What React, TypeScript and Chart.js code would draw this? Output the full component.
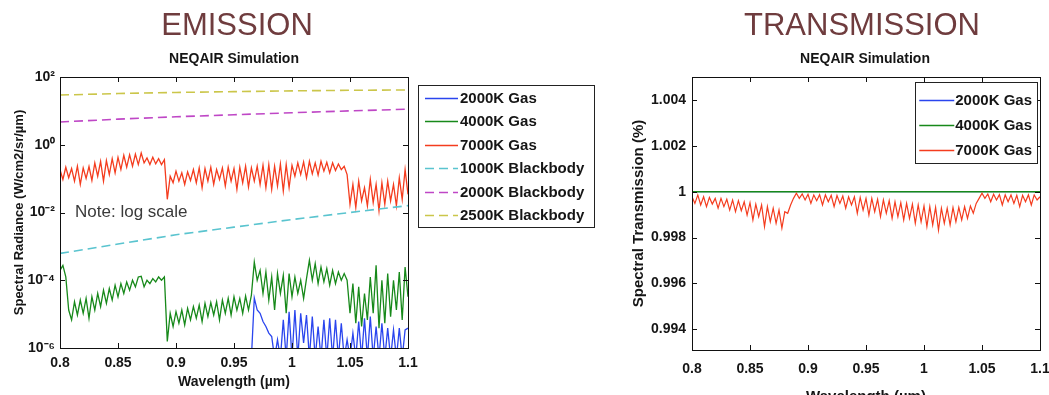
import { useEffect, useRef } from 'react';
import { Chart, registerables } from 'chart.js';

Chart.register(...registerables);

// ---------- DATA ----------
const WAVELENGTH = [
  0.8000, 0.8025, 0.8050, 0.8075, 0.8100, 0.8125, 0.8150, 0.8175, 0.8200, 0.8225,
  0.8250, 0.8275, 0.8300, 0.8325, 0.8350, 0.8375, 0.8400, 0.8425, 0.8450, 0.8475,
  0.8500, 0.8525, 0.8550, 0.8575, 0.8600, 0.8625, 0.8650, 0.8675, 0.8700, 0.8725,
  0.8750, 0.8775, 0.8800, 0.8825, 0.8850, 0.8875, 0.8900, 0.8925, 0.8950, 0.8975,
  0.9000, 0.9025, 0.9050, 0.9075, 0.9100, 0.9125, 0.9150, 0.9175, 0.9200, 0.9225,
  0.9250, 0.9275, 0.9300, 0.9325, 0.9350, 0.9375, 0.9400, 0.9425, 0.9450, 0.9475,
  0.9500, 0.9525, 0.9550, 0.9575, 0.9600, 0.9625, 0.9650, 0.9675, 0.9700, 0.9725,
  0.9750, 0.9775, 0.9800, 0.9825, 0.9850, 0.9875, 0.9900, 0.9925, 0.9950, 0.9975,
  1.0000, 1.0025, 1.0050, 1.0075, 1.0100, 1.0125, 1.0150, 1.0175, 1.0200, 1.0225,
  1.0250, 1.0275, 1.0300, 1.0325, 1.0350, 1.0375, 1.0400, 1.0425, 1.0450, 1.0475,
  1.0500, 1.0525, 1.0550, 1.0575, 1.0600, 1.0625, 1.0650, 1.0675, 1.0700, 1.0725,
  1.0750, 1.0775, 1.0800, 1.0825, 1.0850, 1.0875, 1.0900, 1.0925, 1.0950, 1.0975,
  1.1000,
];

// Emission: spectral radiance (W/cm2/sr/um)
const GAS_7000K_RADIANCE = [
  0.185, 0.0946, 0.217, 0.106, 0.199, 0.0845, 0.232, 0.0675, 0.207, 0.101, 0.227, 0.0884,
  0.291, 0.118, 0.325, 0.0845, 0.340, 0.132, 0.389, 0.148, 0.426,
  0.185, 0.488, 0.217, 0.510, 0.232, 0.533, 0.260, 0.570,
  0.291, 0.407, 0.260, 0.426, 0.272, 0.389, 0.260, 0.364,
  0.0245,
  0.118, 0.0755, 0.166, 0.0845, 0.148, 0.0675, 0.158, 0.0884,
  0.185, 0.0755, 0.207, 0.0539, 0.199, 0.0845, 0.217, 0.0675, 0.185, 0.0946, 0.207, 0.0603,
  0.217, 0.0845, 0.199, 0.0482, 0.217, 0.0755, 0.232, 0.0564, 0.207, 0.0845, 0.232,
  0.0675, 0.248, 0.0539, 0.260, 0.0482, 0.232, 0.0603, 0.272, 0.0431, 0.260, 0.0539, 0.248,
  0.118, 0.291, 0.132, 0.311, 0.106, 0.325, 0.138, 0.291, 0.127, 0.325, 0.166, 0.304,
  0.148, 0.291, 0.173, 0.272, 0.185, 0.232,
  0.132,
  0.0175, 0.0675, 0.0140, 0.0845, 0.0219, 0.0539, 0.0157, 0.0946, 0.0196, 0.0675, 0.0112,
  0.0755, 0.0175, 0.0845, 0.0219, 0.0675, 0.0157, 0.106, 0.0245, 0.185, 0.0344,
];

const GAS_4000K_RADIANCE = [
  1.96e-4, 2.75e-4, 1.25e-4,
  1.32e-5, 6.75e-6, 2.32e-5, 9.45e-6, 2.60e-5, 1.06e-5, 2.91e-5, 7.55e-6, 3.25e-5, 1.32e-5,
  4.07e-5, 1.66e-5, 5.09e-5, 2.08e-5, 5.70e-5, 2.60e-5, 7.14e-5, 3.25e-5, 7.98e-5, 4.07e-5,
  8.93e-5, 5.09e-5, 1.0e-4, 6.38e-5, 1.25e-4, 1.31e-4,
  6.38e-5, 1.0e-4, 7.98e-5, 1.12e-4, 8.93e-5, 1.25e-4, 1.0e-4, 1.25e-4,
  1.57e-6,
  1.06e-5, 4.31e-6, 1.18e-5, 5.39e-6, 1.32e-5, 4.82e-6, 1.48e-5, 6.75e-6, 1.66e-5, 7.55e-6,
  1.85e-5, 6.03e-6, 2.08e-5, 8.45e-6, 2.2e-5, 9.45e-6, 2.32e-5, 6.75e-6, 2.60e-5, 1.06e-5,
  2.91e-5, 9.45e-6, 3.25e-5, 1.32e-5, 2.91e-5, 1.06e-5, 3.4e-5, 1.32e-5, 3.64e-5,
  3.44e-4, 1.0e-4, 1.96e-4, 4.07e-5, 1.75e-4, 2.60e-5, 1.25e-4, 1.32e-5, 1.57e-4, 4.07e-5,
  1.40e-4, 1.06e-5, 1.57e-4, 3.25e-5, 1.25e-4, 4.07e-5, 1.0e-4, 2.91e-5, 1.12e-4,
  3.85e-4, 1.0e-4, 3.08e-4, 7.98e-5, 2.45e-4, 8.93e-5, 2.19e-4, 7.14e-5, 1.96e-4, 7.98e-5,
  1.75e-4, 1.0e-4, 1.57e-4, 1.0e-4,
  1.06e-5, 7.98e-5, 5.39e-6, 6.38e-5, 4.31e-6, 4.07e-5, 6.75e-6, 1.25e-4, 1.06e-5, 2.75e-4,
  3.85e-6, 1.0e-4, 5.39e-6, 1.57e-4, 8.45e-6, 1.0e-4, 1.32e-5, 1.75e-4, 6.75e-6, 2.45e-4,
  3.25e-5,
];

// 2000K gas only rises above 1e-6 from 0.965 um on
const GAS_2000K_WAVELENGTH = WAVELENGTH.slice(66);
const GAS_2000K_RADIANCE = [
  5e-7, 3.0e-5, 1.32e-5, 1.06e-5, 6.03e-6, 4.31e-6, 2.75e-6, 2.19e-6, 5e-7, 1.75e-6,
  5e-7, 6.75e-6, 5e-7, 1.18e-5, 5e-7, 1.32e-5, 5e-7, 1.06e-5, 1.40e-6, 9.45e-6,
  5e-7, 8.45e-6, 5e-7, 4.31e-6, 5e-7, 6.75e-6, 5e-7, 7.55e-6, 5e-7, 6.75e-6,
  5e-7, 5.39e-6, 5e-7, 1.75e-6, 5e-7, 2.75e-6, 5e-7, 6.03e-6, 5e-7, 7.55e-6,
  5e-7, 8.45e-6, 5e-7, 4.31e-6, 5e-7, 5.39e-6, 5e-7, 3.85e-6, 5e-7, 3.44e-6,
  5e-7, 3.85e-6, 5e-7, 3.44e-6, 3.85e-6,
];

const BB_WAVELENGTH = [0.8, 0.85, 0.9, 0.95, 1.0, 1.05, 1.1];
const BB_1000K_RADIANCE = [6.2e-4, 1.17e-3, 2.2e-3, 3.7e-3, 6.2e-3, 1.0e-2, 1.6e-2];
const BB_2000K_RADIANCE = [4.7, 5.7, 6.7, 7.7, 8.8, 10.0, 11.2];
const BB_2500K_RADIANCE = [29.3, 32.5, 35, 37, 39, 40.5, 41.5];

// Transmission
const GAS_7000K_TRANSMISSION = [
  0.99978, 0.99949, 0.99986, 0.99942, 0.99978, 0.99935, 0.99975, 0.99946, 0.99971, 0.99928,
  0.99971, 0.99935, 0.99967, 0.99920, 0.99964, 0.99913, 0.99961, 0.99917, 0.99956, 0.99898,
  0.99952, 0.99877, 0.99946, 0.99891, 0.99942, 0.99848, 0.99935, 0.99869, 0.99928, 0.99862,
  0.99920, 0.99841, 0.99913, 0.99906, 0.99942, 0.99971, 0.99993, 0.99971, 0.99990, 0.99964,
  0.99989, 0.99949, 0.99986, 0.99961, 0.99987, 0.99942, 0.99986, 0.99956, 0.99984, 0.99935,
  0.99983, 0.99949, 0.99981, 0.99928, 0.99978, 0.99942, 0.99978, 0.99906, 0.99975, 0.99920,
  0.99971, 0.99898, 0.99971, 0.99913, 0.99967, 0.99891, 0.99964, 0.99906, 0.99961, 0.99884,
  0.99956, 0.99891, 0.99952, 0.99877, 0.99949, 0.99884, 0.99946, 0.99862, 0.99942, 0.99869,
  0.99938, 0.99848, 0.99935, 0.99855, 0.99932, 0.99833, 0.99928, 0.99862, 0.99928, 0.99855,
  0.99931, 0.99869, 0.99932, 0.99877, 0.99935, 0.99884, 0.99938, 0.99906, 0.99949, 0.99971,
  0.99993, 0.99971, 0.99990, 0.99956, 0.99989, 0.99964, 0.99987, 0.99942, 0.99986, 0.99956,
  0.99986, 0.99949, 0.99984, 0.99935, 0.99984, 0.99956, 0.99986, 0.99942, 0.99986, 0.99964,
  0.99978,
];
const FLAT_WAVELENGTH = [0.8, 1.1];
const GAS_2000K_TRANSMISSION = [1, 1];
const GAS_4000K_TRANSMISSION = [1, 1];

// Ticks
const X_TICKS = [0.8, 0.85, 0.9, 0.95, 1.0, 1.05, 1.1];
const X_TICK_LABELS = ['0.8', '0.85', '0.9', '0.95', '1', '1.05', '1.1'];
const EMISSION_Y_TICKS = [1e-6, 1e-4, 1e-2, 1, 100];
const EMISSION_Y_TICK_LABELS = ['10\u207B\u2076', '10\u207B\u2074', '10\u207B\u00B2', '10\u2070', '10\u00B2'];
const TRANS_Y_TICKS = [0.994, 0.996, 0.998, 1.0, 1.002, 1.004];
const TRANS_Y_TICK_LABELS = ['0.994', '0.996', '0.998', '1', '1.002', '1.004'];

const NOTE_TEXT = 'Note: log scale';

// ---------- STYLE ----------
const FONT = '"Liberation Sans", Arial, Helvetica, sans-serif';
const BLUE = '#2a45ee';
const GREEN = '#17891a';
const RED = '#f43c1e';
const CYAN = '#5ac4cf';
const MAGENTA = '#bf47c6';
const YELLOW = '#cbc64a';
const TEXT = '#151515';
const TITLE_COLOR = '#6f3c3e';

const pts = (xs: number[], ys: number[]) => xs.map((x, i) => ({ x, y: ys[i] }));

const matlabBoxPlugin = {
  id: 'matlabBox',
  afterDatasetsDraw(chart: any) {
    const { ctx, chartArea } = chart;
    const { left, right, top, bottom } = chartArea;
    const xs = chart.scales.x;
    const ys = chart.scales.y;
    const L = 5;
    ctx.save();
    ctx.strokeStyle = '#111';
    ctx.lineWidth = 1;
    ctx.setLineDash([]);
    ctx.beginPath();
    xs.ticks.forEach((t: any) => {
      const px = Math.round(xs.getPixelForValue(t.value)) + 0.5;
      ctx.moveTo(px, bottom);
      ctx.lineTo(px, bottom - L);
      ctx.moveTo(px, top);
      ctx.lineTo(px, top + L);
    });
    ys.ticks.forEach((t: any) => {
      const py = Math.round(ys.getPixelForValue(t.value)) + 0.5;
      ctx.moveTo(left, py);
      ctx.lineTo(left + L, py);
      ctx.moveTo(right, py);
      ctx.lineTo(right - L, py);
    });
    ctx.stroke();
    ctx.strokeRect(Math.round(left) + 0.5, Math.round(top) + 0.5, Math.round(right - left), Math.round(bottom - top));
    ctx.restore();
  },
};

const boxedLegendPlugin = {
  id: 'boxedLegend',
  afterDraw(chart: any, _args: any, opts: any) {
    const { ctx, chartArea } = chart;
    const items = chart.data.datasets;
    ctx.save();
    ctx.font = opts.font;
    let maxW = 0;
    items.forEach((d: any) => {
      maxW = Math.max(maxW, ctx.measureText(d.label).width);
    });
    const w = opts.padLeft + opts.lineLen + opts.gap + maxW + opts.padRight;
    const h = opts.padTop + items.length * opts.rowHeight + opts.padBottom;
    const left = opts.outside ? chartArea.right + opts.offsetX : chartArea.right - opts.offsetX - w;
    const top = chartArea.top + opts.offsetY;
    ctx.fillStyle = '#ffffff';
    ctx.fillRect(left, top, w, h);
    ctx.strokeStyle = '#222';
    ctx.lineWidth = 1;
    ctx.strokeRect(Math.round(left) + 0.5, Math.round(top) + 0.5, Math.round(w), Math.round(h));
    items.forEach((d: any, i: number) => {
      const cy = Math.round(top + opts.padTop + opts.rowHeight * (i + 0.5)) + 0.5;
      ctx.beginPath();
      ctx.setLineDash(d.borderDash || []);
      ctx.strokeStyle = d.borderColor;
      ctx.lineWidth = opts.lineWidth;
      ctx.moveTo(left + opts.padLeft, cy);
      ctx.lineTo(left + opts.padLeft + opts.lineLen, cy);
      ctx.stroke();
      ctx.setLineDash([]);
      ctx.fillStyle = opts.color;
      ctx.textAlign = 'left';
      ctx.textBaseline = 'middle';
      ctx.fillText(d.label, left + opts.padLeft + opts.lineLen + opts.gap, cy + 0.5);
    });
    ctx.restore();
  },
};

const notePlugin = {
  id: 'noteText',
  afterDatasetsDraw(chart: any, _args: any, opts: any) {
    if (!opts || !opts.text) return;
    const { ctx } = chart;
    ctx.save();
    ctx.font = opts.font;
    ctx.fillStyle = opts.color;
    ctx.textAlign = 'left';
    ctx.textBaseline = 'middle';
    ctx.fillText(opts.text, chart.scales.x.getPixelForValue(opts.x), chart.scales.y.getPixelForValue(opts.y));
    ctx.restore();
  },
};

const tickFont = { family: FONT, size: 14, weight: 'bold' as const };

function xScale(tickPadding: number, titleFont: any, titlePadBottom: number, height: number) {
  return {
    type: 'linear' as const,
    min: 0.8,
    max: 1.1,
    afterBuildTicks: (s: any) => {
      s.ticks = X_TICKS.map((v) => ({ value: v }));
    },
    afterFit: (s: any) => {
      s.height = height;
      s.paddingLeft = 0;
      s.paddingRight = 0;
    },
    grid: { display: false, drawTicks: false },
    border: { display: false },
    ticks: {
      autoSkip: false,
      maxRotation: 0,
      padding: tickPadding,
      color: TEXT,
      font: tickFont,
      callback: (_v: any, i: number) => X_TICK_LABELS[i],
    },
    title: {
      display: true,
      text: 'Wavelength (\u00B5m)',
      color: TEXT,
      font: titleFont,
      padding: { top: 0, bottom: titlePadBottom },
    },
  };
}

function EmissionChart() {
  const ref = useRef<HTMLCanvasElement | null>(null);
  useEffect(() => {
    if (!ref.current) return;
    const line = (label: string, xs: number[], ys: number[], color: string, order: number, dashed: boolean) => ({
      label,
      data: pts(xs, ys),
      borderColor: color,
      backgroundColor: color,
      borderWidth: dashed ? 1.6 : 1.3,
      borderDash: dashed ? [9, 5] : [],
      pointRadius: 0,
      tension: 0,
      fill: false,
      order,
    });
    const chart = new Chart(ref.current, {
      type: 'line',
      data: {
        datasets: [
          line('2000K Gas', GAS_2000K_WAVELENGTH, GAS_2000K_RADIANCE, BLUE, 6, false),
          line('4000K Gas', WAVELENGTH, GAS_4000K_RADIANCE, GREEN, 5, false),
          line('7000K Gas', WAVELENGTH, GAS_7000K_RADIANCE, RED, 4, false),
          line('1000K Blackbody', BB_WAVELENGTH, BB_1000K_RADIANCE, CYAN, 3, true),
          line('2000K Blackbody', BB_WAVELENGTH, BB_2000K_RADIANCE, MAGENTA, 2, true),
          line('2500K Blackbody', BB_WAVELENGTH, BB_2500K_RADIANCE, YELLOW, 1, true),
        ],
      },
      options: {
        animation: false,
        responsive: false,
        maintainAspectRatio: false,
        events: [],
        layout: { padding: { left: 0, right: 202, top: 77, bottom: 0 } },
        plugins: {
          legend: { display: false },
          tooltip: { enabled: false },
          boxedLegend: {
            outside: true,
            offsetX: 10,
            offsetY: 8,
            font: `bold 15px ${FONT}`,
            color: TEXT,
            padLeft: 7,
            lineLen: 33,
            gap: 2,
            padRight: 10,
            padTop: 1,
            padBottom: 0,
            rowHeight: 23.5,
            lineWidth: 1.6,
          },
          noteText: {
            text: NOTE_TEXT,
            x: 0.813,
            y: 0.01,
            font: `17px ${FONT}`,
            color: '#3a3a3a',
          },
        } as any,
        scales: {
          x: xScale(7, { family: FONT, size: 14, weight: 'bold' }, 4, 47),
          y: {
            type: 'logarithmic',
            min: 1e-6,
            max: 100,
            afterBuildTicks: (s: any) => {
              s.ticks = EMISSION_Y_TICKS.map((v) => ({ value: v }));
            },
            afterFit: (s: any) => {
              s.width = 60;
            },
            grid: { display: false, drawTicks: false },
            border: { display: false },
            ticks: {
              autoSkip: false,
              padding: 5,
              color: TEXT,
              font: tickFont,
              callback: (_v: any, i: number) => EMISSION_Y_TICK_LABELS[i],
            },
            title: {
              display: true,
              text: 'Spectral Radiance (W/cm2/sr/\u00B5m)',
              color: TEXT,
              font: { family: FONT, size: 13, weight: 'bold' },
              padding: { top: 12, bottom: 0 },
            },
          },
        },
      },
      plugins: [matlabBoxPlugin, notePlugin, boxedLegendPlugin],
    } as any);
    return () => chart.destroy();
  }, []);
  return <canvas ref={ref} width={610} height={395} style={{ position: 'absolute', left: 0, top: 0 }} />;
}

function TransmissionChart() {
  const ref = useRef<HTMLCanvasElement | null>(null);
  useEffect(() => {
    if (!ref.current) return;
    const line = (label: string, xs: number[], ys: number[], color: string, width: number, order: number) => ({
      label,
      data: pts(xs, ys),
      borderColor: color,
      backgroundColor: color,
      borderWidth: width,
      pointRadius: 0,
      tension: 0,
      fill: false,
      order,
    });
    const chart = new Chart(ref.current, {
      type: 'line',
      data: {
        datasets: [
          line('2000K Gas', FLAT_WAVELENGTH, GAS_2000K_TRANSMISSION, BLUE, 1, 3),
          line('4000K Gas', FLAT_WAVELENGTH, GAS_4000K_TRANSMISSION, GREEN, 1.6, 2),
          line('7000K Gas', WAVELENGTH, GAS_7000K_TRANSMISSION, RED, 1.2, 1),
        ],
      },
      options: {
        animation: false,
        responsive: false,
        maintainAspectRatio: false,
        events: [],
        layout: { padding: { left: 0, right: 9, top: 77, bottom: 0 } },
        plugins: {
          legend: { display: false },
          tooltip: { enabled: false },
          boxedLegend: {
            outside: false,
            offsetX: 3,
            offsetY: 5,
            font: `bold 15px ${FONT}`,
            color: TEXT,
            padLeft: 4,
            lineLen: 35,
            gap: 1,
            padRight: 5,
            padTop: 5.5,
            padBottom: 0,
            rowHeight: 25,
            lineWidth: 1.5,
          },
        } as any,
        scales: {
          x: xScale(11, { family: FONT, size: 15, weight: 'bold' }, 4, 60),
          y: {
            type: 'linear',
            min: 0.9931,
            max: 1.005,
            afterBuildTicks: (s: any) => {
              s.ticks = TRANS_Y_TICKS.map((v) => ({ value: v }));
            },
            afterFit: (s: any) => {
              s.width = 82;
            },
            grid: { display: false, drawTicks: false },
            border: { display: false },
            ticks: {
              autoSkip: false,
              padding: 6,
              color: TEXT,
              font: tickFont,
              callback: (_v: any, i: number) => TRANS_Y_TICK_LABELS[i],
            },
            title: {
              display: true,
              text: 'Spectral Transmission (%)',
              color: TEXT,
              font: { family: FONT, size: 15, weight: 'bold' },
              padding: { top: 20, bottom: 0 },
            },
          },
        },
      },
      plugins: [matlabBoxPlugin, boxedLegendPlugin],
    } as any);
    return () => chart.destroy();
  }, []);
  return <canvas ref={ref} width={439} height={410} style={{ position: 'absolute', left: 610, top: 0 }} />;
}

function Heading({ text, cx, top, size, bold, color }: { text: string; cx: number; top: number; size: number; bold?: boolean; color: string }) {
  return (
    <div
      style={{
        position: 'absolute',
        left: cx - 200,
        width: 400,
        top,
        textAlign: 'center',
        fontFamily: FONT,
        fontSize: size,
        lineHeight: `${size}px`,
        fontWeight: bold ? 'bold' : 'normal',
        color,
        whiteSpace: 'nowrap',
      }}
    >
      {text}
    </div>
  );
}

export default function App() {
  return (
    <div
      style={{
        position: 'absolute',
        left: 0,
        top: 0,
        width: 1049,
        height: 395,
        overflow: 'hidden',
        background: '#ffffff',
      }}
    >
      <EmissionChart />
      <TransmissionChart />
      <Heading text="EMISSION" cx={237} top={9} size={31} color={TITLE_COLOR} />
      <Heading text="NEQAIR Simulation" cx={234} top={51} size={14} bold color={TEXT} />
      <Heading text="TRANSMISSION" cx={862} top={9} size={31} color={TITLE_COLOR} />
      <Heading text="NEQAIR Simulation" cx={865} top={51} size={14} bold color={TEXT} />
    </div>
  );
}
